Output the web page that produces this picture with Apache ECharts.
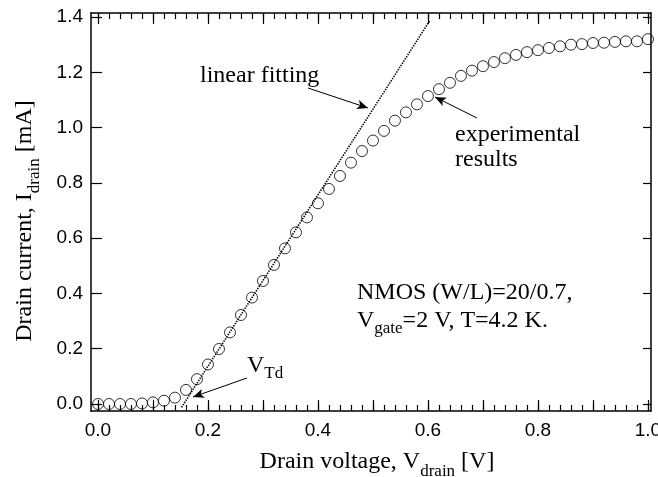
<!DOCTYPE html>
<html>
<head>
<meta charset="utf-8">
<script src="https://cdn.jsdelivr.net/npm/echarts@6/dist/echarts.min.js"></script>
<style>
  html, body { margin: 0; padding: 0; background: #fff; }
  #chart { width: 658px; height: 477px; }
</style>
</head>
<body>
<div id="chart"></div>
<script>
// Measured drain voltage sweep (V)
const drainVoltage = [
  0.00, 0.02, 0.04, 0.06, 0.08, 0.10, 0.12, 0.14, 0.16, 0.18,
  0.20, 0.22, 0.24, 0.26, 0.28, 0.30, 0.32, 0.34, 0.36, 0.38,
  0.40, 0.42, 0.44, 0.46, 0.48, 0.50, 0.52, 0.54, 0.56, 0.58,
  0.60, 0.62, 0.64, 0.66, 0.68, 0.70, 0.72, 0.74, 0.76, 0.78,
  0.80, 0.82, 0.84, 0.86, 0.88, 0.90, 0.92, 0.94, 0.96, 0.98, 1.00
];
// Measured drain current (mA)
const drainCurrent = [
  0.000, 0.000, 0.000, 0.000, 0.002, 0.006, 0.012, 0.023, 0.051, 0.090,
  0.143, 0.199, 0.259, 0.322, 0.385, 0.445, 0.503, 0.563, 0.621, 0.675,
  0.726, 0.778, 0.825, 0.873, 0.915, 0.953, 0.988, 1.025, 1.055, 1.084,
  1.114, 1.139, 1.162, 1.187, 1.206, 1.222, 1.237, 1.251, 1.263, 1.273,
  1.280, 1.288, 1.294, 1.300, 1.302, 1.306, 1.307, 1.310, 1.312, 1.312, 1.320
];
// Linear fit of the linear region (end points)
const fitVoltage = [0.152, 0.604];
const fitCurrent = [-0.012, 1.389];

// Tick positions and labels
const xTickLabels = [0.0, 0.2, 0.4, 0.6, 0.8, 1.0];
const xMajorTicks = [0.0, 0.1, 0.2, 0.3, 0.4, 0.5, 0.6, 0.7, 0.8, 0.9, 1.0];
const xMinorTicks = drainVoltage.slice();
const yTickLabels = [0.0, 0.2, 0.4, 0.6, 0.8, 1.0, 1.2, 1.4];

// Annotation anchors (data coordinates)
const fitLabelAt = [0.1855, 1.187];
const fitArrow = [[0.3818, 1.1432], [0.4909, 1.0708]];
const expLabelAt = [0.6491, 0.930];
const expArrow = [[0.6891, 1.0346], [0.6127, 1.1106]];
const vtdLabelAt = [0.2709, 0.130];
const vtdArrow = [[0.2709, 0.0941], [0.1727, 0.0253]];
const condLabelAt = [0.4709, 0.344];

// Frame extents (slightly beyond the data range on every side)
const X_MIN = -0.0127, X_MAX = 1.0055;
const Y_MIN = -0.0253, Y_MAX = 1.4145;

const SERIF = '"Liberation Serif", "Times New Roman", serif';
const SANS = '"Liberation Sans", Arial, sans-serif';
const lineSt = { color: '#000', width: 1.5 };
const tickSt = { color: '#000', width: 1.2 };

const richSub = {
  n: { fontFamily: SERIF, fontSize: 24, color: '#000', verticalAlign: 'top', lineHeight: 30 },
  s: { fontFamily: SERIF, fontSize: 17, color: '#000', verticalAlign: 'bottom', lineHeight: 30 }
};

function xAxisDef(position, major) {
  return {
    type: 'value', position: position, min: X_MIN, max: X_MAX,
    axisLine: { show: major, onZero: false, lineStyle: lineSt },
    axisTick: { show: true, inside: true, length: major ? 11 : 6,
      customValues: major ? xMajorTicks : xMinorTicks, lineStyle: tickSt },
    axisLabel: { show: false },
    splitLine: { show: false }
  };
}

const bottomMajor = xAxisDef('bottom', true);
bottomMajor.axisLabel = {
  show: true, customValues: xTickLabels, margin: 10,
  formatter: v => v.toFixed(1),
  fontFamily: SANS, fontSize: 19, color: '#000'
};
bottomMajor.name = '{n|Drain voltage, V}{s|drain}{n| [V]}';
bottomMajor.nameLocation = 'middle';
bottomMajor.nameGap = 39;
bottomMajor.nameTextStyle = { rich: richSub, padding: [0, 0, 0, 12] };

const option = {
  animation: false,
  backgroundColor: '#fff',
  grid: { left: 91, right: 7, top: 13, bottom: 66, outerBoundsMode: 'none', containLabel: false },
  xAxis: [bottomMajor, xAxisDef('bottom', false), xAxisDef('top', true), xAxisDef('top', false)],
  yAxis: [
    {
      type: 'value', position: 'left', min: Y_MIN, max: Y_MAX,
      axisLine: { show: true, onZero: false, lineStyle: lineSt },
      axisTick: { show: true, inside: true, length: 11, customValues: yTickLabels, lineStyle: tickSt },
      axisLabel: { show: true, customValues: yTickLabels, margin: 8,
        formatter: v => v.toFixed(1), fontFamily: SANS, fontSize: 19, color: '#000' },
      splitLine: { show: false },
      name: '{n|Drain current, I}{s|drain}{n| [mA]}',
      nameLocation: 'middle', nameGap: 48,
      nameTextStyle: { rich: richSub, padding: [0, 18, 0, 0] }
    },
    {
      type: 'value', position: 'right', min: Y_MIN, max: Y_MAX,
      axisLine: { show: true, onZero: false, lineStyle: lineSt },
      axisTick: { show: true, inside: true, length: 8, customValues: yTickLabels, lineStyle: tickSt },
      axisLabel: { show: false },
      splitLine: { show: false }
    }
  ],
  series: [
    {
      name: 'linear fitting', type: 'line',
      data: fitVoltage.map((v, i) => [v, fitCurrent[i]]),
      showSymbol: false, silent: true,
      lineStyle: { color: '#000', width: 1.6, type: [1.4, 1.2] },
      markLine: {
        silent: true, symbol: ['none', 'arrow'], symbolSize: [7, 11],
        lineStyle: { color: '#000', width: 1, type: 'solid' },
        label: { show: false },
        data: [fitArrow, expArrow, vtdArrow].map(a => [{ coord: a[0] }, { coord: a[1] }])
      }
    },
    {
      name: 'experimental results', type: 'scatter',
      data: drainVoltage.map((v, i) => [v, drainCurrent[i]]),
      symbol: 'circle', symbolSize: 11, silent: true,
      itemStyle: { color: 'rgba(0,0,0,0)', borderColor: '#000', borderWidth: 1 },
      markPoint: {
        silent: true, symbol: 'circle', symbolSize: 0,
        label: {
          show: true, position: 'right', distance: 0, align: 'left',
          fontFamily: SERIF, fontSize: 24, color: '#000', lineHeight: 25,
          rich: {
            n: { fontFamily: SERIF, fontSize: 24, color: '#000', verticalAlign: 'top', lineHeight: 28 },
            s: { fontFamily: SERIF, fontSize: 17, color: '#000', verticalAlign: 'bottom', lineHeight: 28 }
          }
        },
        data: [
          { coord: fitLabelAt, label: { formatter: 'linear fitting' } },
          { coord: expLabelAt, label: { formatter: 'experimental\nresults' } },
          { coord: vtdLabelAt, label: { formatter: '{n|V}{s|Td}' } },
          { coord: condLabelAt, label: { formatter: '{n|NMOS (W/L)=20/0.7,}\n{n|V}{s|gate}{n|=2 V, T=4.2 K.}' } }
        ]
      }
    }
  ]
};

const chart = echarts.init(document.getElementById('chart'), null, { renderer: 'canvas' });
chart.setOption(option);
</script>
</body>
</html>
